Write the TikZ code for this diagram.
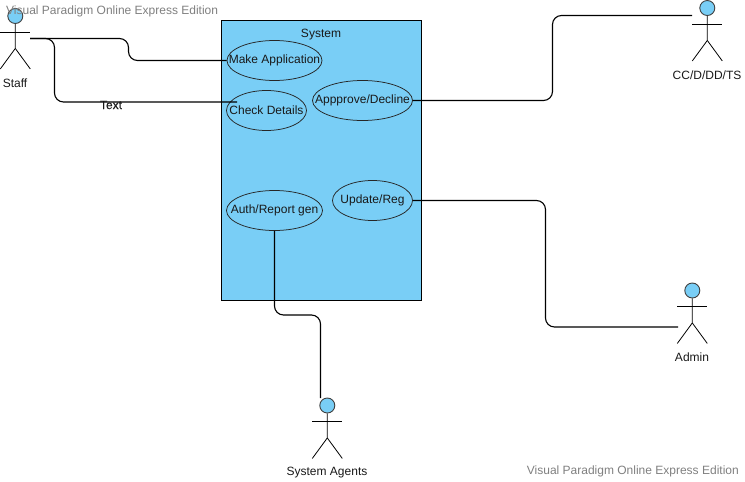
\documentclass[tikz,border=0pt]{standalone}
\usepackage{fontspec}
\setmainfont{Liberation Sans}
\newfontfamily\heavyfont[FakeBold=0.3]{Liberation Sans}
\usetikzlibrary{shapes.geometric}
\definecolor{fillblue}{HTML}{79CEF6}
\tikzset{
  x=1pt,y=-1pt,
  usecase/.style={draw=black!85,fill=none,ellipse,inner sep=0pt,line width=0.75pt},
  lbl/.style={inner sep=0pt,font=\fontsize{12}{14}\selectfont,text=black!90},
  wm/.style={inner sep=0pt,font=\fontsize{12}{14}\selectfont,text=black!50},
  conn/.style={draw=black,line width=1.15pt,rounded corners=9pt},
  limb/.style={draw=black,line width=0.8pt},
  head/.style={circle,draw=black!75,fill=fillblue,line width=0.9pt,minimum size=15pt,inner sep=0pt},
  sysbox/.style={draw=black,fill=fillblue,line width=0.9pt,minimum width=200pt,minimum height=280pt,inner sep=0pt}
}
\newcommand{\stickman}[3]{% name, x, y of head centre
  \node[head] (#1) at (#2,#3) {};
  \draw[limb] (#1.south) -- ++(0,24.5) -- ++(-15,20.5);
  \draw[limb] (#1.south) ++(0,24.5) -- ++(15,20.5);
  \draw[limb] ([xshift=-15pt,yshift=-16pt]#1.center) -- ([xshift=15pt,yshift=-16pt]#1.center);
}
\begin{document}
\begin{tikzpicture}
\useasboundingbox (0,0) rectangle (745,482);
\fill[white] (0,0) rectangle (745,482);
\node[sysbox] (sys) at (321.25,160.5) {};
\node[lbl] (systitle) at (321,35) {System};
\node[usecase,minimum width=95pt,minimum height=40pt] (make) at (274.5,60.5) {};
\node[usecase,minimum width=80pt,minimum height=40pt] (check) at (266.5,110.5) {};
\node[usecase,minimum width=100pt,minimum height=40pt] (appr) at (362.5,100.5) {};
\node[usecase,minimum width=80pt,minimum height=40pt] (upd) at (372.5,200.5) {};
\node[usecase,minimum width=96pt,minimum height=40pt] (auth) at (274.5,210.5) {};
\node[lbl] at (make.center) {Make Application};
\node[lbl] at (check.center) {Check Details};
\node[lbl] at (appr.center) {Appprove/Decline};
\node[lbl] at (upd.center) {Update/Reg};
\node[lbl] at (auth.center) {Auth/Report gen};

\stickman{staff}{15.3}{16}
\stickman{cc}{707.3}{8}
\stickman{admin}{692.3}{290.5}
\stickman{agents}{327.3}{405.5}
\node[lbl] (stafflbl) at (15,83) {Staff};
\node[lbl] (cclbl) at (707,75.5) {CC/D/DD/TS};
\node[lbl] (adminlbl) at (692,357.5) {Admin};
\node[lbl] (agentslbl) at (327,472.5) {System Agents};

\coordinate (staffout) at (30,38.5);
\coordinate (checkin) at (237,102);
\coordinate (ccin) at (692,15.5);
\coordinate (adminin) at (678,327);
\coordinate (agentsin) at (320.5,398);
\draw[conn] (staffout) -| (128.5,60.5) -- (make.west);
\draw[conn] (staffout) -- (54.5,38.5) -- (54.5,102) -- (checkin);
\draw[conn] (appr.east) -- (552.5,100.5) -- (552.5,15.5) -- (ccin);
\draw[conn] (upd.east) -- (545.5,200.5) -- (545.5,327) -- (adminin);
\draw[conn] (auth.south) -- (274.5,315) -- (320.5,315) -- (agentsin);
\node[lbl,font=\heavyfont\fontsize{12}{14}\selectfont] (textlbl) at (111,105) {Text};
\node[wm,anchor=west] (wma) at (6,11) {Visual Paradigm Online Express Edition};
\node[wm,anchor=east] (wmb) at (739,471) {Visual Paradigm Online Express Edition};
\end{tikzpicture}
\end{document}
